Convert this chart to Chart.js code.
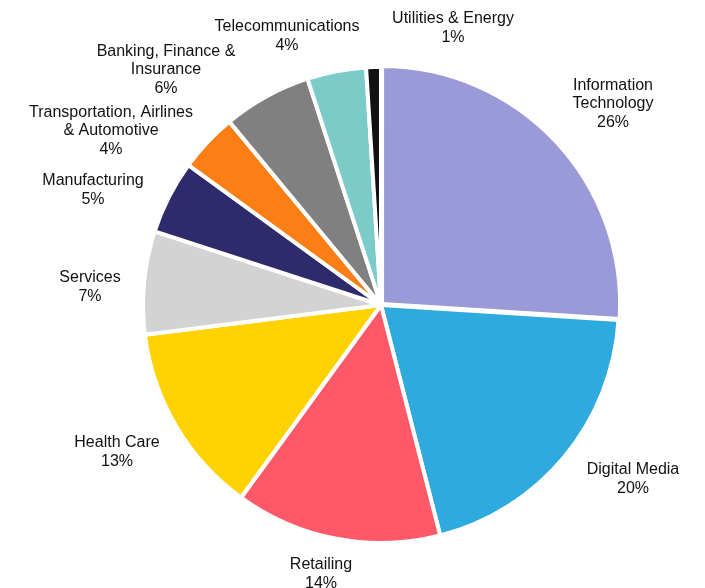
<!DOCTYPE html>
<html>
<head>
<meta charset="utf-8">
<script src="https://cdn.jsdelivr.net/npm/chart.js@4"></script>
<style>
  html, body { margin: 0; padding: 0; background: #fff; }
  #wrap { width: 705px; height: 588px; }
</style>
</head>
<body>
<div id="wrap"><canvas id="pie"></canvas></div>
<script>
// data
const sectors = [
  ['Information', 'Technology'],
  ['Digital Media'],
  ['Retailing'],
  ['Health Care'],
  ['Services'],
  ['Manufacturing'],
  ['Transportation, Airlines', '& Automotive'],
  ['Banking, Finance &', 'Insurance'],
  ['Telecommunications'],
  ['Utilities & Energy']
]
const shares = [26, 20, 14, 13, 7, 5, 4, 6, 4, 1]

// look
const colors = ['#9b9ad9', '#2eaade', '#fe5869', '#ffd200', '#d3d3d3',
  '#2e2b6c', '#fd7e15', '#808080', '#7bcbc9', '#111111']
const offsets = [6, 0, 0, 0, 0, 0, 0, 0, 0, 0]
// label block centre, relative to pie centre (px)
const labelAt = [
  [232, -201], [252, 174], [-60, 269], [-264, 147], [-291, -18],
  [-288, -115], [-270, -174], [-215, -235], [-94, -269], [72, -277]
]

const outsideLabels = {
  id: 'outsideLabels',
  afterDatasetsDraw(chart) {
    const ctx = chart.ctx
    const arc = chart.getDatasetMeta(0).data[0]
    const cx = arc.x, cy = arc.y
    ctx.save()
    ctx.font = '16px "Liberation Sans", Arial, sans-serif'
    ctx.fillStyle = '#111111'
    ctx.textAlign = 'center'
    ctx.textBaseline = 'middle'
    const lh = 18.7
    sectors.forEach((lines, i) => {
      const all = lines.concat([shares[i] + '%'])
      const x = cx + labelAt[i][0]
      const y0 = cy + labelAt[i][1] - (all.length - 1) * lh / 2
      all.forEach((t, k) => ctx.fillText(t, x, y0 + k * lh))
    })
    ctx.restore()
  }
}

new Chart(document.getElementById('pie'), {
  type: 'pie',
  data: {
    labels: sectors,
    datasets: [{
      data: shares,
      backgroundColor: colors,
      borderColor: '#ffffff',
      borderWidth: 4,
      offset: offsets
    }]
  },
  options: {
    responsive: true,
    maintainAspectRatio: false,
    animation: false,
    radius: 238,
    layout: { padding: { left: 100, right: 43, top: 50, bottom: 28 } },
    plugins: {
      legend: { display: false },
      tooltip: { enabled: false }
    }
  },
  plugins: [outsideLabels]
})
</script>
</body>
</html>
